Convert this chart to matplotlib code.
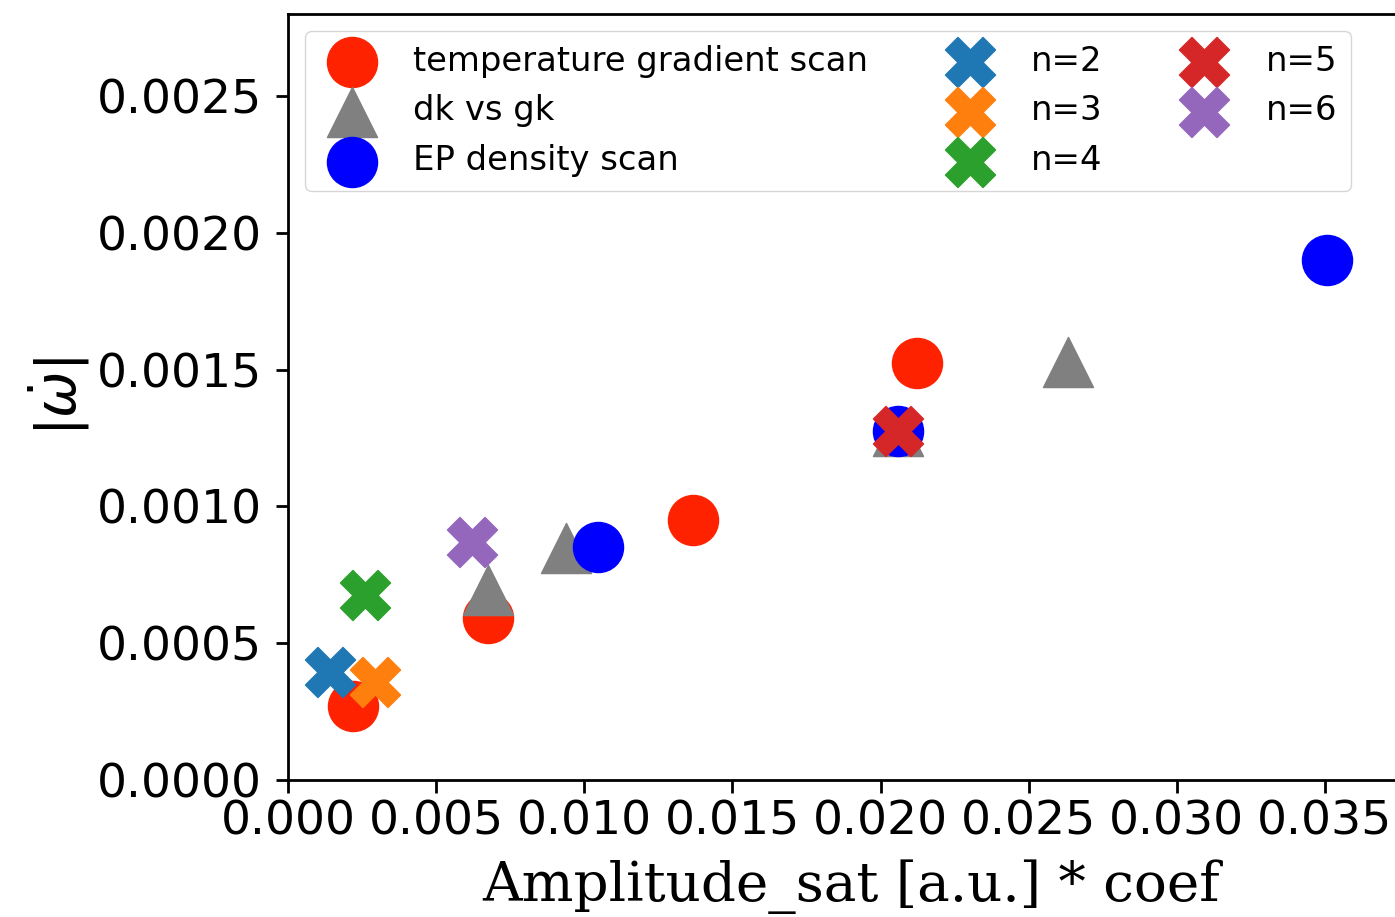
import matplotlib
matplotlib.use("Agg")
import matplotlib.pyplot as plt

# temperature gradient scan
temp_x = [0.00219, 0.00675, 0.01367, 0.02123]
temp_y = [0.000271, 0.000593, 0.000952, 0.001523]

# dk vs gk
dkgk_x = [0.00675, 0.00938, 0.02059, 0.02633]
dkgk_y = [0.000695, 0.000849, 0.001274, 0.001528]

# EP density scan
ep_x = [0.01046, 0.02059, 0.03507]
ep_y = [0.000853, 0.001274, 0.00190]

# single n runs
n_labels = ["n=2", "n=3", "n=4", "n=5", "n=6"]
n_x = [0.00142, 0.00294, 0.00260, 0.02059, 0.00621]
n_y = [0.000395, 0.000359, 0.000677, 0.001274, 0.000871]
n_colors = ["tab:blue", "tab:orange", "tab:green", "tab:red", "tab:purple"]

fig = plt.figure(figsize=(13.95, 9.17), dpi=100)
ax = fig.add_axes([0.2065, 0.1494, 0.807, 0.8353])

ms = 1300
ax.scatter(temp_x, temp_y, s=ms, marker="o", color="#ff2200", label="temperature gradient scan")
ax.scatter(dkgk_x, dkgk_y, s=ms, marker="^", color="grey", label="dk vs gk")
ax.scatter(ep_x, ep_y, s=ms, marker="o", color="blue", label="EP density scan")
for i in range(len(n_labels)):
    ax.scatter(n_x[i], n_y[i], s=ms, marker="X", color=n_colors[i], label=n_labels[i])

ax.set_xlim(0, 0.038)
ax.set_ylim(0, 0.0028)
ax.set_xticks([0.000, 0.005, 0.010, 0.015, 0.020, 0.025, 0.030, 0.035])
ax.set_yticks([0.0000, 0.0005, 0.0010, 0.0015, 0.0020, 0.0025])
ax.tick_params(labelsize=34, length=9, width=2)
ax.tick_params(axis="y", pad=9.5)
ax.tick_params(axis="x", pad=5)
for sp in ax.spines.values():
    sp.set_linewidth(2)

ax.set_xlabel("Amplitude_sat [a.u.] * coef", family="DejaVu Serif", fontsize=39.4, labelpad=11)
ax.set_ylabel(r"$|\dot{\omega}|$", fontsize=40)

ax.legend(ncol=3, fontsize=24.4, loc="upper left", bbox_to_anchor=(0.0, 1.0))

fig.savefig("out.png", dpi=100)
